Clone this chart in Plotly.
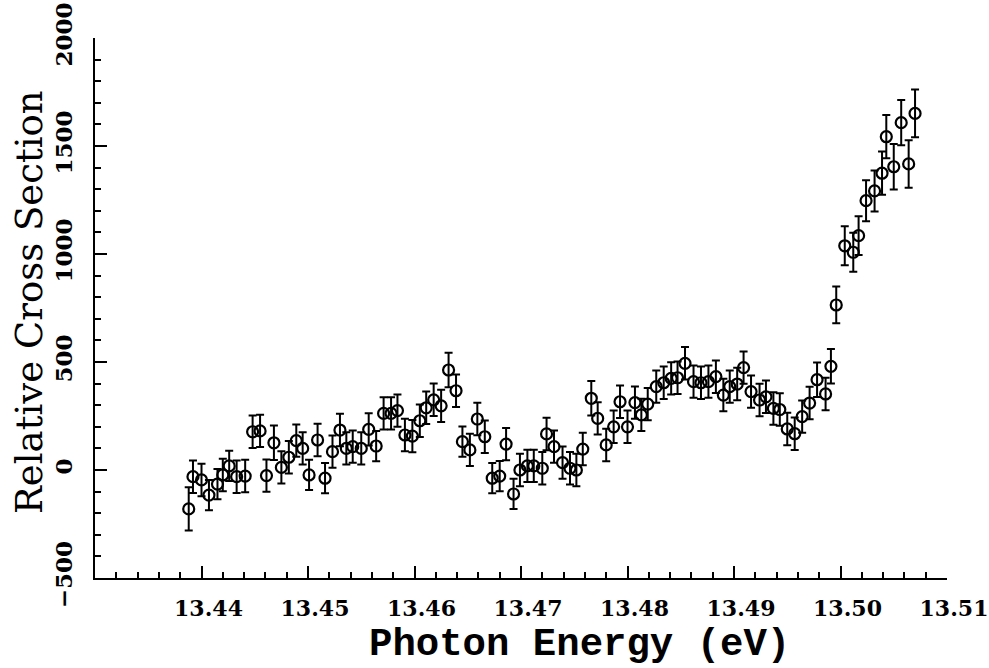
import plotly.graph_objects as go

energy = [13.4388, 13.4392, 13.4400, 13.4407, 13.4415, 13.4420, 13.4426, 13.4433, 13.4441, 13.4448,
          13.4455, 13.4461, 13.4468, 13.4475, 13.4482, 13.4489, 13.4495, 13.4501, 13.4509, 13.4516,
          13.4523, 13.4530, 13.4536, 13.4542, 13.4550, 13.4557, 13.4564, 13.4571, 13.4578, 13.4584,
          13.4591, 13.4598, 13.4605, 13.4611, 13.4618, 13.4625, 13.4632, 13.4639, 13.4645, 13.4652,
          13.4659, 13.4666, 13.4673, 13.4680, 13.4686, 13.4693, 13.4699, 13.4706, 13.4712, 13.4720,
          13.4724, 13.4731, 13.4739, 13.4746, 13.4752, 13.4758, 13.4766, 13.4772, 13.4780, 13.4787,
          13.4793, 13.4800, 13.4807, 13.4813, 13.4819, 13.4827, 13.4834, 13.4841, 13.4847, 13.4854,
          13.4862, 13.4869, 13.4876, 13.4883, 13.4890, 13.4896, 13.4903, 13.4909, 13.4916, 13.4924,
          13.4930, 13.4937, 13.4943, 13.4950, 13.4957, 13.4964, 13.4971, 13.4978, 13.4986, 13.4991,
          13.4996, 13.5004, 13.5012, 13.5017, 13.5024, 13.5032, 13.5039, 13.5043, 13.5050, 13.5057,
          13.5064, 13.5070]

cross_section = [-180, -31, -46, -116, -65, -23, 19, -31, -28, 177,
                 181, -26, 126, 12, 59, 136, 100, -23, 139, -38,
                 85, 185, 100, 108, 100, 188, 111, 262, 262, 275,
                 162, 157, 228, 288, 325, 297, 463, 367, 131, 93,
                 236, 154, -38, -28, 120, -111, 0, 19, 19, 8,
                 167, 108, 34, 8, 0, 97, 332, 239, 116, 200,
                 316, 200, 312, 255, 305, 386, 404, 424, 427, 494,
                 409, 404, 409, 432, 347, 386, 398, 474, 363, 324,
                 339, 285, 280, 190, 168, 247, 310, 418, 352, 480,
                 764, 1038, 1008, 1085, 1247, 1292, 1374, 1543, 1404, 1608,
                 1417, 1651]

error = [100, 75, 75, 70, 70, 75, 70, 75, 75, 75,
         75, 75, 80, 75, 75, 75, 75, 70, 75, 70,
         75, 75, 75, 75, 75, 75, 70, 75, 75, 75,
         75, 75, 75, 75, 75, 75, 80, 75, 70, 75,
         75, 75, 70, 70, 75, 70, 75, 75, 75, 75,
         75, 75, 75, 75, 75, 75, 80, 75, 75, 75,
         75, 75, 75, 75, 75, 75, 75, 75, 75, 75,
         75, 75, 75, 75, 75, 75, 75, 75, 75, 75,
         75, 75, 75, 75, 75, 75, 75, 80, 75, 80,
         85, 90, 90, 90, 95, 95, 100, 100, 105, 105,
         110, 110]

x_ticks = [13.44, 13.45, 13.46, 13.47, 13.48, 13.49, 13.50, 13.51]
x_labels = ["13.44", "13.45", "13.46", "13.47", "13.48", "13.49", "13.50", "13.51"]
y_ticks = [-500, 0, 500, 1000, 1500, 2000]
y_labels = ["\u2212500", "0", "500", "1000", "1500", "2000"]

L, R, T, B = 95, 42, 38, 90
W, H = 989, 668
pw, ph = W - L - R, H - T - B


def px_to_paper(px, py):
    return (px - L) / pw, 1 - (py - T) / ph


fig = go.Figure()
fig.add_trace(go.Scatter(
    x=energy, y=cross_section, mode="markers",
    marker=dict(symbol="circle-open", size=11, color="black", line=dict(width=2.2, color="black")),
    error_y=dict(type="data", array=error, visible=True, color="black", thickness=2, width=4),
    showlegend=False,
))

xt_x, xt_y = px_to_paper(579, 645)
yt_x, yt_y = px_to_paper(29, 302)

fig.update_layout(
    width=W, height=H,
    margin=dict(l=L, r=R, t=T, b=B),
    paper_bgcolor="white", plot_bgcolor="white",
    font=dict(family="DejaVu Serif", color="black"),
    xaxis=dict(
        range=[13.43, 13.51], tickvals=x_ticks, ticktext=x_labels,
        ticks="inside", ticklen=12, tickwidth=2, tickcolor="black",
        minor=dict(dtick=0.002, ticks="inside", ticklen=6, tickwidth=1.5, tickcolor="black"),
        showline=True, linecolor="black", linewidth=2, showgrid=False, zeroline=False,
        tickfont=dict(family="DejaVu Serif", size=22, weight="bold", color="black"),
        ticklabelstandoff=10, ticklabelshift=7, automargin=False,
    ),
    yaxis=dict(
        range=[-500, 2000], tickvals=y_ticks, ticktext=y_labels,
        ticks="inside", ticklen=12, tickwidth=2, tickcolor="black",
        minor=dict(dtick=100, ticks="inside", ticklen=6, tickwidth=1.5, tickcolor="black"),
        showline=True, linecolor="black", linewidth=2, showgrid=False, zeroline=False,
        tickangle=-90,
        tickfont=dict(family="DejaVu Serif", size=23, weight="bold", color="black"),
        ticklabelstandoff=12, automargin=False,
    ),
    annotations=[
        dict(text="Photon Energy (eV)", x=xt_x, y=xt_y, xref="paper", yref="paper",
             xanchor="center", yanchor="middle", showarrow=False,
             font=dict(family="Liberation Mono", size=39, weight="bold", color="black")),
        dict(text="Relative Cross Section", x=yt_x, y=yt_y, xref="paper", yref="paper",
             xanchor="center", yanchor="middle", textangle=-90, showarrow=False,
             font=dict(family="DejaVu Serif", size=37, color="black")),
    ],
)

fig.write_html("out.html")
